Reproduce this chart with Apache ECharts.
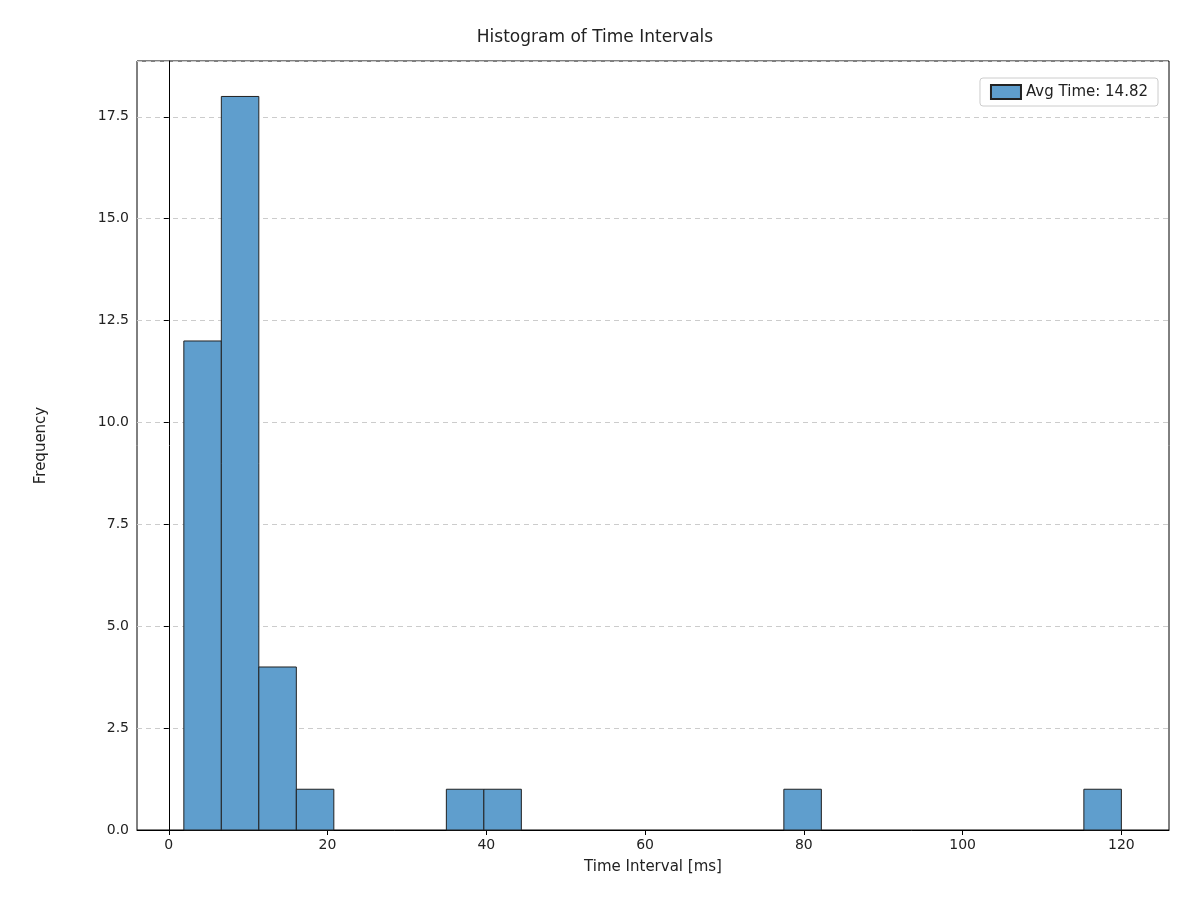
<!DOCTYPE html>
<html><head><meta charset="utf-8">
<script src="https://cdn.jsdelivr.net/npm/echarts@6/dist/echarts.min.js"></script>
<style>html,body{margin:0;padding:0;background:#fff}#c{width:1190px;height:907px}</style>
</head><body><div id="c"></div>
<script>
const binMin = 1.9;
const binMax = 120;
const counts = [12,18,4,1,0,0,0,1,1,0,0,0,0,0,0,0,1,0,0,0,0,0,0,0,1];
const xTicks = [0,20,40,60,80,100,120];
const yTicks = [0,2.5,5,7.5,10,12.5,15,17.5];
const seriesName = 'Avg Time: 14.82';
const w = (binMax - binMin) / counts.length;
const bins = counts.map((c,i)=>[binMin + i*w, binMin + (i+1)*w, c]).filter(b=>b[2]>0);
const font = 'DejaVu Sans';
const chart = echarts.init(document.getElementById('c'));
chart.setOption({
  animation:false,
  textStyle:{fontFamily:font},
  title:{text:'Histogram of Time Intervals',left:'center',top:24,textStyle:{fontFamily:font,fontSize:17,fontWeight:'normal',color:'#222'}},
  legend:{right:32,top:78,itemWidth:30,itemHeight:14,icon:'rect',borderColor:'#ccc',borderWidth:1,borderRadius:3,padding:[6,10],
    textStyle:{fontFamily:font,fontSize:15,color:'#222'},data:[seriesName]},
  grid:{left:137,right:21,top:61,bottom:77,show:true,borderColor:'#000',borderWidth:1,backgroundColor:'transparent'},
  xAxis:{type:'value',min:-4,max:126,name:'Time Interval [ms]',nameLocation:'middle',nameGap:30,
    nameTextStyle:{fontFamily:font,fontSize:15,color:'#222'},
    axisLine:{show:true,lineStyle:{color:'#000'}},
    axisTick:{show:true,customValues:xTicks,length:5,lineStyle:{color:'#000'}},
    axisLabel:{customValues:xTicks,fontFamily:font,fontSize:14,color:'#222',margin:8},
    splitLine:{show:false}},
  yAxis:{type:'value',min:0,max:18.87,interval:2.5,name:'Frequency',nameLocation:'middle',nameGap:88,
    nameTextStyle:{fontFamily:font,fontSize:15,color:'#222'},
    axisLine:{show:true,lineStyle:{color:'#000'}},
    axisTick:{show:true,length:5,lineStyle:{color:'#000'}},
    axisLabel:{fontFamily:font,fontSize:14,color:'#222',showMaxLabel:false,
      formatter:v=>yTicks.includes(+v.toFixed(2))?v.toFixed(1):''},
    splitLine:{show:true,lineStyle:{type:[5,4],color:'#ccc'}}},
  series:[{name:seriesName,type:'custom',itemStyle:{color:'#5f9ecd',borderColor:'#222',borderWidth:1},
    data:bins,
    renderItem:(params,api)=>{
      const p0=api.coord([api.value(0),0]);
      const p1=api.coord([api.value(1),api.value(2)]);
      return {type:'rect',shape:{x:p0[0],y:p1[1],width:p1[0]-p0[0],height:p0[1]-p1[1]},
        style:{fill:'#5f9ecd',stroke:'#222',lineWidth:1}};
    },
    encode:{x:[0,1],y:2}}]
});
</script></body></html>
